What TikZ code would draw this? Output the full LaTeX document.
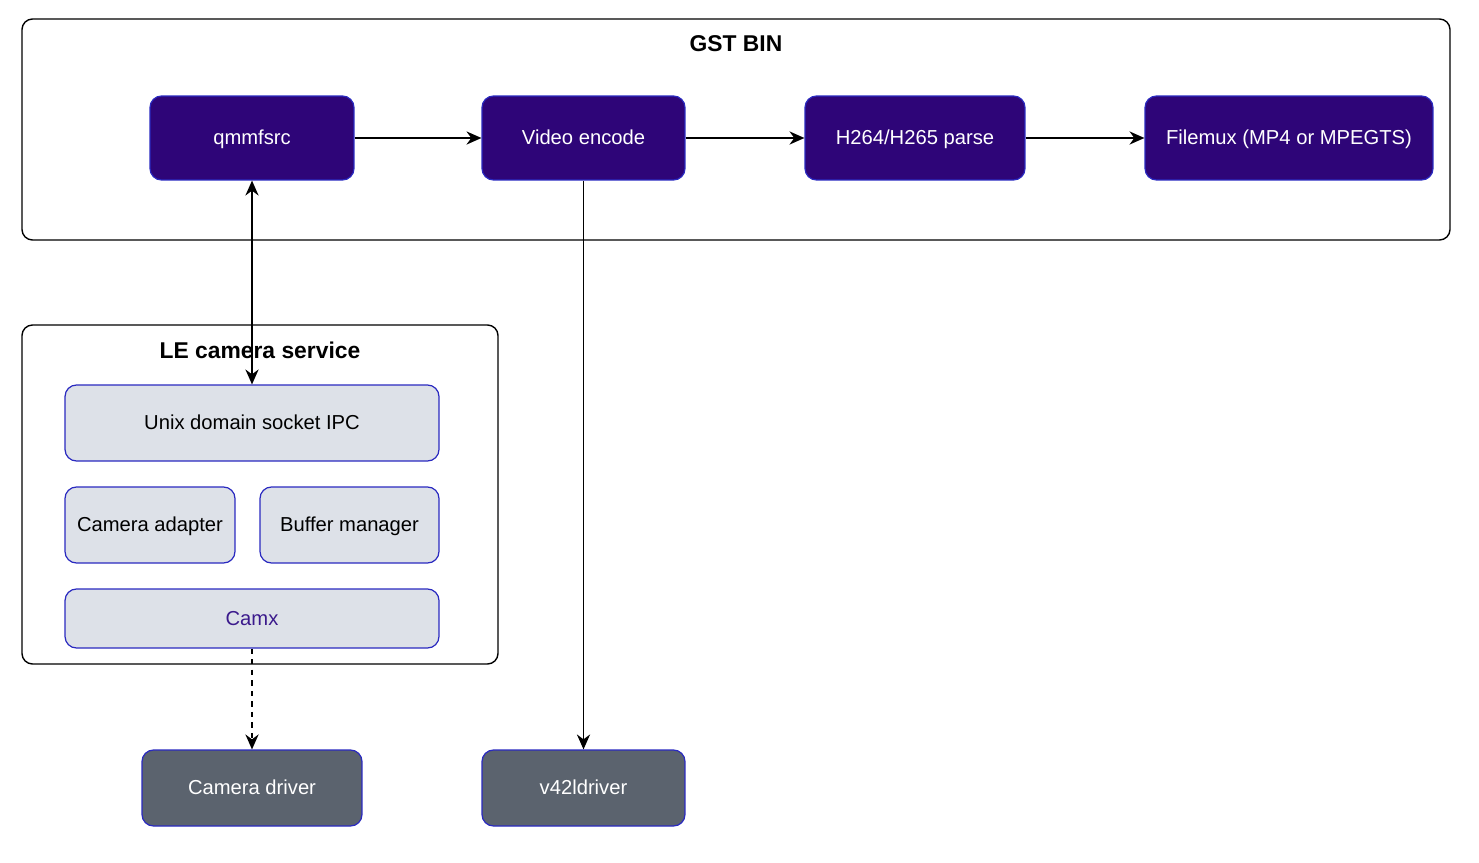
\documentclass[tikz,border=0pt]{standalone}
\usepackage{fontspec}
\setmainfont{Liberation Sans}
\usetikzlibrary{arrows.meta,calc}
\definecolor{binpurple}{HTML}{2E0578}
\definecolor{edgeblue}{HTML}{2A2AC0}
\definecolor{svcgray}{HTML}{DDE1E8}
\definecolor{drvgray}{HTML}{5B636E}
\definecolor{camxtext}{HTML}{3B1A8C}

\begin{document}
\begin{tikzpicture}[x=0.02cm,y=-0.02cm, font=\fontsize{11.5}{14}\selectfont,
 procbox/.style={draw=edgeblue,fill=binpurple,text=white,rounded corners=6.5pt,line width=0.7pt,minimum height=1.68cm,inner sep=0pt,text height=1.6ex,text depth=0.15ex},
 svcbox/.style={draw=edgeblue,fill=svcgray,text=black,rounded corners=6.5pt,line width=0.7pt,minimum height=1.52cm,inner sep=0pt,text height=1.6ex,text depth=0.15ex},
 drvbox/.style={draw=edgeblue,fill=drvgray,text=white,rounded corners=6.5pt,line width=0.7pt,minimum height=1.52cm,inner sep=0pt,text height=1.6ex,text depth=0.15ex},
 frame/.style={draw=black,rounded corners=6pt,line width=0.8pt},
 titletext/.style={font=\fontsize{13}{15}\selectfont\bfseries},
 arrowstyle/.style={-{Stealth[length=8.5pt,width=7.5pt]},line width=0.8pt}]

 \useasboundingbox (0,0) rectangle (1479,862);

 % containers
 \draw[frame] (22,19) rectangle (1450,240);
 \draw[frame] (22,325) rectangle (498,664);

 % gst bin
 \node[titletext] (gsttitle) at (736,44) {GST BIN};
 \node[procbox,minimum width=4.08cm] (qmm) at (252,138) {qmmfsrc};
 \node[procbox,minimum width=4.06cm] (venc) at (583.5,138) {Video encode};
 \node[procbox,minimum width=4.4cm] (parse) at (915,138) {H264/H265 parse};
 \node[procbox,minimum width=5.76cm] (fmux) at (1289,138) {Filemux (MP4 or MPEGTS)};

 % camera service
 \node[svcbox,minimum width=7.48cm] (ipc) at (252,423) {Unix domain socket IPC};
 \node[svcbox,minimum width=3.4cm] (adapter) at (150,525) {Camera adapter};
 \node[svcbox,minimum width=3.58cm] (bufmgr) at (349.5,525) {Buffer manager};
 \node[svcbox,minimum width=7.48cm,minimum height=1.18cm,text=camxtext] (camx) at (252,618.5) {Camx};
 \node[titletext] (lettitle) at (260,350) {LE camera service};

 % drivers
 \node[drvbox,minimum width=4.4cm] (camdrv) at (252,788) {Camera driver};
 \node[drvbox,minimum width=4.06cm] (v4l) at (583.5,788) {v42ldriver};

 \foreach \a/\b in {qmm/venc,venc/parse,parse/fmux}
   \draw[arrowstyle] (\a.east) -- (\b.west);
 \draw[arrowstyle] (venc.south) -- (v4l.north);
 \draw[arrowstyle,{Stealth[length=8.5pt,width=7.5pt]}-{Stealth[length=8.5pt,width=7.5pt]}] (qmm.south) -- (ipc.north);
 \draw[arrowstyle,dashed] (camx.south) -- (camdrv.north);
\end{tikzpicture}
\end{document}
